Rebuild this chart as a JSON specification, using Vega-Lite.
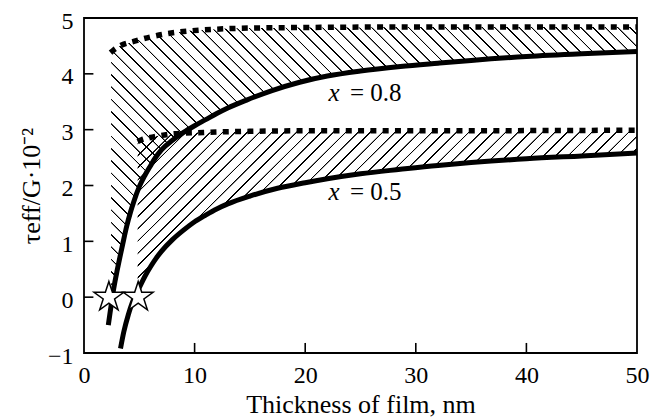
{
  "$schema": "https://vega.github.io/schema/vega-lite/v6.json",
  "width": 553,
  "height": 335,
  "autosize": {"type": "none"},
  "padding": {"left": 84, "top": 18, "right": 19, "bottom": 64},
  "background": "white",
  "config": {
    "view": {"stroke": "black", "strokeWidth": 1.8},
    "axis": {
      "grid": false,
      "ticks": false,
      "domain": false,
      "labelFont": "Liberation Serif",
      "labelFontSize": 24,
      "labelColor": "black",
      "labelFlush": false,
      "labelOverlap": false,
      "format": "d",
      "titleFont": "Liberation Serif",
      "titleFontSize": 26,
      "titleFontWeight": "normal",
      "titleColor": "black"
    }
  },
  "datasets": {
    "curves": [
      {"series": "s08", "t": 2.2, "v": -0.5}, {"series": "s08", "t": 2.4, "v": -0.22}, {"series": "s08", "t": 2.6, "v": 0.05}, {"series": "s08", "t": 2.8, "v": 0.28}, {"series": "s08", "t": 3.0, "v": 0.48}, {"series": "s08", "t": 3.25, "v": 0.72}, {"series": "s08", "t": 3.5, "v": 0.95}, {"series": "s08", "t": 3.86, "v": 1.27}, {"series": "s08", "t": 4.2, "v": 1.52}, {"series": "s08", "t": 4.5, "v": 1.71}, {"series": "s08", "t": 5.0, "v": 1.98}, {"series": "s08", "t": 5.5, "v": 2.18}, {"series": "s08", "t": 6.0, "v": 2.35}, {"series": "s08", "t": 6.5, "v": 2.51}, {"series": "s08", "t": 7.0, "v": 2.64}, {"series": "s08", "t": 8.0, "v": 2.81}, {"series": "s08", "t": 9.0, "v": 2.95}, {"series": "s08", "t": 10, "v": 3.07}, {"series": "s08", "t": 11, "v": 3.18}, {"series": "s08", "t": 12, "v": 3.29}, {"series": "s08", "t": 13, "v": 3.39}, {"series": "s08", "t": 14.7, "v": 3.53}, {"series": "s08", "t": 17, "v": 3.70}, {"series": "s08", "t": 19.5, "v": 3.85}, {"series": "s08", "t": 22, "v": 3.96}, {"series": "s08", "t": 25, "v": 4.05}, {"series": "s08", "t": 28.6, "v": 4.13}, {"series": "s08", "t": 32, "v": 4.19}, {"series": "s08", "t": 35, "v": 4.24}, {"series": "s08", "t": 40, "v": 4.31}, {"series": "s08", "t": 45, "v": 4.36}, {"series": "s08", "t": 50, "v": 4.40},
      {"series": "s05", "t": 3.3, "v": -0.92}, {"series": "s05", "t": 3.6, "v": -0.62}, {"series": "s05", "t": 4.0, "v": -0.32}, {"series": "s05", "t": 4.4, "v": -0.08}, {"series": "s05", "t": 4.7, "v": 0.05}, {"series": "s05", "t": 5.0, "v": 0.17}, {"series": "s05", "t": 5.5, "v": 0.37}, {"series": "s05", "t": 6.0, "v": 0.54}, {"series": "s05", "t": 6.5, "v": 0.69}, {"series": "s05", "t": 7.0, "v": 0.82}, {"series": "s05", "t": 8.0, "v": 1.03}, {"series": "s05", "t": 9.0, "v": 1.20}, {"series": "s05", "t": 10, "v": 1.35}, {"series": "s05", "t": 11, "v": 1.47}, {"series": "s05", "t": 12, "v": 1.58}, {"series": "s05", "t": 13, "v": 1.67}, {"series": "s05", "t": 15, "v": 1.81}, {"series": "s05", "t": 17.5, "v": 1.95}, {"series": "s05", "t": 20, "v": 2.05}, {"series": "s05", "t": 22, "v": 2.12}, {"series": "s05", "t": 25, "v": 2.21}, {"series": "s05", "t": 28.6, "v": 2.29}, {"series": "s05", "t": 32, "v": 2.36}, {"series": "s05", "t": 35, "v": 2.41}, {"series": "s05", "t": 40, "v": 2.48}, {"series": "s05", "t": 45, "v": 2.53}, {"series": "s05", "t": 50, "v": 2.58},
      {"series": "d08", "t": 2.4, "v": 4.38}, {"series": "d08", "t": 2.7, "v": 4.43}, {"series": "d08", "t": 3.25, "v": 4.50}, {"series": "d08", "t": 4.5, "v": 4.58}, {"series": "d08", "t": 6.0, "v": 4.66}, {"series": "d08", "t": 7.5, "v": 4.72}, {"series": "d08", "t": 9.6, "v": 4.77}, {"series": "d08", "t": 12, "v": 4.80}, {"series": "d08", "t": 15, "v": 4.82}, {"series": "d08", "t": 20, "v": 4.83}, {"series": "d08", "t": 30, "v": 4.84}, {"series": "d08", "t": 50, "v": 4.84},
      {"series": "d05", "t": 4.85, "v": 2.79}, {"series": "d05", "t": 5.2, "v": 2.82}, {"series": "d05", "t": 6.27, "v": 2.87}, {"series": "d05", "t": 7.8, "v": 2.92}, {"series": "d05", "t": 10.8, "v": 2.95}, {"series": "d05", "t": 15, "v": 2.97}, {"series": "d05", "t": 20, "v": 2.98}, {"series": "d05", "t": 30, "v": 2.98}, {"series": "d05", "t": 50, "v": 2.99}
    ],
    "hatch": [
      {"region": "r08", "t": 2.45, "lo": 0, "hi": 4.39}, {"region": "r08", "t": 2.6, "lo": 0.05, "hi": 4.42}, {"region": "r08", "t": 2.8, "lo": 0.28, "hi": 4.45}, {"region": "r08", "t": 3.0, "lo": 0.48, "hi": 4.47}, {"region": "r08", "t": 3.25, "lo": 0.72, "hi": 4.50}, {"region": "r08", "t": 3.5, "lo": 0.95, "hi": 4.52}, {"region": "r08", "t": 3.86, "lo": 1.27, "hi": 4.54}, {"region": "r08", "t": 4.2, "lo": 1.52, "hi": 4.56}, {"region": "r08", "t": 4.5, "lo": 1.71, "hi": 4.58}, {"region": "r08", "t": 5.0, "lo": 1.98, "hi": 4.61}, {"region": "r08", "t": 5.5, "lo": 2.18, "hi": 4.64}, {"region": "r08", "t": 6.0, "lo": 2.35, "hi": 4.66}, {"region": "r08", "t": 6.5, "lo": 2.51, "hi": 4.68}, {"region": "r08", "t": 7.0, "lo": 2.64, "hi": 4.70}, {"region": "r08", "t": 8.0, "lo": 2.81, "hi": 4.73}, {"region": "r08", "t": 9.0, "lo": 2.95, "hi": 4.76}, {"region": "r08", "t": 10, "lo": 3.07, "hi": 4.78}, {"region": "r08", "t": 11, "lo": 3.18, "hi": 4.79}, {"region": "r08", "t": 12, "lo": 3.29, "hi": 4.80}, {"region": "r08", "t": 13, "lo": 3.39, "hi": 4.81}, {"region": "r08", "t": 14.7, "lo": 3.53, "hi": 4.82}, {"region": "r08", "t": 17, "lo": 3.70, "hi": 4.82}, {"region": "r08", "t": 19.5, "lo": 3.85, "hi": 4.83}, {"region": "r08", "t": 22, "lo": 3.96, "hi": 4.83}, {"region": "r08", "t": 25, "lo": 4.05, "hi": 4.83}, {"region": "r08", "t": 28.6, "lo": 4.13, "hi": 4.84}, {"region": "r08", "t": 32, "lo": 4.19, "hi": 4.84}, {"region": "r08", "t": 35, "lo": 4.24, "hi": 4.84}, {"region": "r08", "t": 40, "lo": 4.31, "hi": 4.84}, {"region": "r08", "t": 45, "lo": 4.36, "hi": 4.84}, {"region": "r08", "t": 50, "lo": 4.40, "hi": 4.84},
      {"region": "r05", "t": 4.85, "lo": 0.11, "hi": 2.79}, {"region": "r05", "t": 5.2, "lo": 0.25, "hi": 2.82}, {"region": "r05", "t": 5.5, "lo": 0.37, "hi": 2.84}, {"region": "r05", "t": 6.0, "lo": 0.54, "hi": 2.86}, {"region": "r05", "t": 6.5, "lo": 0.69, "hi": 2.88}, {"region": "r05", "t": 7.0, "lo": 0.82, "hi": 2.90}, {"region": "r05", "t": 8.0, "lo": 1.03, "hi": 2.92}, {"region": "r05", "t": 9.0, "lo": 1.20, "hi": 2.94}, {"region": "r05", "t": 10, "lo": 1.35, "hi": 2.95}, {"region": "r05", "t": 11, "lo": 1.47, "hi": 2.95}, {"region": "r05", "t": 12, "lo": 1.58, "hi": 2.96}, {"region": "r05", "t": 13, "lo": 1.67, "hi": 2.96}, {"region": "r05", "t": 15, "lo": 1.81, "hi": 2.97}, {"region": "r05", "t": 17.5, "lo": 1.95, "hi": 2.97}, {"region": "r05", "t": 20, "lo": 2.05, "hi": 2.98}, {"region": "r05", "t": 22, "lo": 2.12, "hi": 2.98}, {"region": "r05", "t": 25, "lo": 2.21, "hi": 2.98}, {"region": "r05", "t": 28.6, "lo": 2.29, "hi": 2.98}, {"region": "r05", "t": 32, "lo": 2.36, "hi": 2.98}, {"region": "r05", "t": 35, "lo": 2.41, "hi": 2.99}, {"region": "r05", "t": 40, "lo": 2.48, "hi": 2.99}, {"region": "r05", "t": 45, "lo": 2.53, "hi": 2.99}, {"region": "r05", "t": 50, "lo": 2.58, "hi": 2.99}
    ],
    "axisticks": [
      {"axis": "x", "val": 10}, {"axis": "x", "val": 20}, {"axis": "x", "val": 30}, {"axis": "x", "val": 40},
      {"axis": "y", "val": 0}, {"axis": "y", "val": 1}, {"axis": "y", "val": 2}, {"axis": "y", "val": 3}, {"axis": "y", "val": 4}
    ],
    "stars": [{"t": 2.25, "v": 0}, {"t": 4.9, "v": 0}],
    "labels": [
      {"part": "var", "t": 22.1, "v": 3.52, "label": "x"},
      {"part": "val", "t": 24.05, "v": 3.52, "label": "= 0.8"},
      {"part": "var", "t": 22.1, "v": 1.74, "label": "x"},
      {"part": "val", "t": 24.05, "v": 1.74, "label": "= 0.5"}
    ]
  },
  "layer": [
    {
      "data": {"name": "hatch"},
      "transform": [{"filter": "datum.region === 'r08'"}],
      "mark": {
        "type": "area", "interpolate": "monotone", "opacity": 1,
        "color": {"gradient": "linear", "x1": 0, "y1": 1, "x2": 1.2341, "y2": 0.3662, "stops": [
{"offset":0,"color":"transparent"},{"offset":0.0005,"color":"#000"},{"offset":0.002,"color":"#000"},{"offset":0.0025,"color":"transparent"},
{"offset":0.015,"color":"transparent"},{"offset":0.0155,"color":"#000"},{"offset":0.017,"color":"#000"},{"offset":0.0175,"color":"transparent"},
{"offset":0.03,"color":"transparent"},{"offset":0.0305,"color":"#000"},{"offset":0.032,"color":"#000"},{"offset":0.0325,"color":"transparent"},
{"offset":0.045,"color":"transparent"},{"offset":0.0455,"color":"#000"},{"offset":0.047,"color":"#000"},{"offset":0.0475,"color":"transparent"},
{"offset":0.06,"color":"transparent"},{"offset":0.0605,"color":"#000"},{"offset":0.062,"color":"#000"},{"offset":0.0625,"color":"transparent"},
{"offset":0.075,"color":"transparent"},{"offset":0.0755,"color":"#000"},{"offset":0.077,"color":"#000"},{"offset":0.0775,"color":"transparent"},
{"offset":0.09,"color":"transparent"},{"offset":0.0905,"color":"#000"},{"offset":0.092,"color":"#000"},{"offset":0.0925,"color":"transparent"},
{"offset":0.105,"color":"transparent"},{"offset":0.1055,"color":"#000"},{"offset":0.107,"color":"#000"},{"offset":0.1075,"color":"transparent"},
{"offset":0.12,"color":"transparent"},{"offset":0.1205,"color":"#000"},{"offset":0.122,"color":"#000"},{"offset":0.1225,"color":"transparent"},
{"offset":0.135,"color":"transparent"},{"offset":0.1355,"color":"#000"},{"offset":0.137,"color":"#000"},{"offset":0.1375,"color":"transparent"},
{"offset":0.15,"color":"transparent"},{"offset":0.1505,"color":"#000"},{"offset":0.152,"color":"#000"},{"offset":0.1525,"color":"transparent"},
{"offset":0.165,"color":"transparent"},{"offset":0.1655,"color":"#000"},{"offset":0.167,"color":"#000"},{"offset":0.1675,"color":"transparent"},
{"offset":0.18,"color":"transparent"},{"offset":0.1805,"color":"#000"},{"offset":0.182,"color":"#000"},{"offset":0.1825,"color":"transparent"},
{"offset":0.195,"color":"transparent"},{"offset":0.1955,"color":"#000"},{"offset":0.197,"color":"#000"},{"offset":0.1975,"color":"transparent"},
{"offset":0.21,"color":"transparent"},{"offset":0.2105,"color":"#000"},{"offset":0.212,"color":"#000"},{"offset":0.2125,"color":"transparent"},
{"offset":0.225,"color":"transparent"},{"offset":0.2255,"color":"#000"},{"offset":0.227,"color":"#000"},{"offset":0.2275,"color":"transparent"},
{"offset":0.24,"color":"transparent"},{"offset":0.2405,"color":"#000"},{"offset":0.242,"color":"#000"},{"offset":0.2425,"color":"transparent"},
{"offset":0.255,"color":"transparent"},{"offset":0.2555,"color":"#000"},{"offset":0.257,"color":"#000"},{"offset":0.2575,"color":"transparent"},
{"offset":0.27,"color":"transparent"},{"offset":0.2705,"color":"#000"},{"offset":0.272,"color":"#000"},{"offset":0.2725,"color":"transparent"},
{"offset":0.285,"color":"transparent"},{"offset":0.2855,"color":"#000"},{"offset":0.287,"color":"#000"},{"offset":0.2875,"color":"transparent"},
{"offset":0.3,"color":"transparent"},{"offset":0.3005,"color":"#000"},{"offset":0.302,"color":"#000"},{"offset":0.3025,"color":"transparent"},
{"offset":0.315,"color":"transparent"},{"offset":0.3155,"color":"#000"},{"offset":0.317,"color":"#000"},{"offset":0.3175,"color":"transparent"},
{"offset":0.33,"color":"transparent"},{"offset":0.3305,"color":"#000"},{"offset":0.332,"color":"#000"},{"offset":0.3325,"color":"transparent"},
{"offset":0.345,"color":"transparent"},{"offset":0.3455,"color":"#000"},{"offset":0.347,"color":"#000"},{"offset":0.3475,"color":"transparent"},
{"offset":0.36,"color":"transparent"},{"offset":0.3605,"color":"#000"},{"offset":0.362,"color":"#000"},{"offset":0.3625,"color":"transparent"},
{"offset":0.375,"color":"transparent"},{"offset":0.3755,"color":"#000"},{"offset":0.377,"color":"#000"},{"offset":0.3775,"color":"transparent"},
{"offset":0.39,"color":"transparent"},{"offset":0.3905,"color":"#000"},{"offset":0.392,"color":"#000"},{"offset":0.3925,"color":"transparent"},
{"offset":0.405,"color":"transparent"},{"offset":0.4055,"color":"#000"},{"offset":0.407,"color":"#000"},{"offset":0.4075,"color":"transparent"},
{"offset":0.42,"color":"transparent"},{"offset":0.4205,"color":"#000"},{"offset":0.422,"color":"#000"},{"offset":0.4225,"color":"transparent"},
{"offset":0.435,"color":"transparent"},{"offset":0.4355,"color":"#000"},{"offset":0.437,"color":"#000"},{"offset":0.4375,"color":"transparent"},
{"offset":0.45,"color":"transparent"},{"offset":0.4505,"color":"#000"},{"offset":0.452,"color":"#000"},{"offset":0.4525,"color":"transparent"},
{"offset":0.465,"color":"transparent"},{"offset":0.4655,"color":"#000"},{"offset":0.467,"color":"#000"},{"offset":0.4675,"color":"transparent"},
{"offset":0.48,"color":"transparent"},{"offset":0.4805,"color":"#000"},{"offset":0.482,"color":"#000"},{"offset":0.4825,"color":"transparent"},
{"offset":0.495,"color":"transparent"},{"offset":0.4955,"color":"#000"},{"offset":0.497,"color":"#000"},{"offset":0.4975,"color":"transparent"},
{"offset":0.51,"color":"transparent"},{"offset":0.5105,"color":"#000"},{"offset":0.512,"color":"#000"},{"offset":0.5125,"color":"transparent"},
{"offset":0.525,"color":"transparent"},{"offset":0.5255,"color":"#000"},{"offset":0.527,"color":"#000"},{"offset":0.5275,"color":"transparent"},
{"offset":0.54,"color":"transparent"},{"offset":0.5405,"color":"#000"},{"offset":0.542,"color":"#000"},{"offset":0.5425,"color":"transparent"},
{"offset":0.555,"color":"transparent"},{"offset":0.5555,"color":"#000"},{"offset":0.557,"color":"#000"},{"offset":0.5575,"color":"transparent"},
{"offset":0.57,"color":"transparent"},{"offset":0.5705,"color":"#000"},{"offset":0.572,"color":"#000"},{"offset":0.5725,"color":"transparent"},
{"offset":0.585,"color":"transparent"},{"offset":0.5855,"color":"#000"},{"offset":0.587,"color":"#000"},{"offset":0.5875,"color":"transparent"},
{"offset":0.6,"color":"transparent"},{"offset":0.6005,"color":"#000"},{"offset":0.602,"color":"#000"},{"offset":0.6025,"color":"transparent"},
{"offset":0.615,"color":"transparent"},{"offset":0.6155,"color":"#000"},{"offset":0.617,"color":"#000"},{"offset":0.6175,"color":"transparent"},
{"offset":0.63,"color":"transparent"},{"offset":0.6305,"color":"#000"},{"offset":0.632,"color":"#000"},{"offset":0.6325,"color":"transparent"},
{"offset":0.645,"color":"transparent"},{"offset":0.6455,"color":"#000"},{"offset":0.647,"color":"#000"},{"offset":0.6475,"color":"transparent"},
{"offset":0.66,"color":"transparent"},{"offset":0.6605,"color":"#000"},{"offset":0.662,"color":"#000"},{"offset":0.6625,"color":"transparent"},
{"offset":0.675,"color":"transparent"},{"offset":0.6755,"color":"#000"},{"offset":0.677,"color":"#000"},{"offset":0.6775,"color":"transparent"},
{"offset":0.69,"color":"transparent"},{"offset":0.6905,"color":"#000"},{"offset":0.692,"color":"#000"},{"offset":0.6925,"color":"transparent"},
{"offset":0.705,"color":"transparent"},{"offset":0.7055,"color":"#000"},{"offset":0.707,"color":"#000"},{"offset":0.7075,"color":"transparent"},
{"offset":0.72,"color":"transparent"},{"offset":0.7205,"color":"#000"},{"offset":0.722,"color":"#000"},{"offset":0.7225,"color":"transparent"},
{"offset":0.735,"color":"transparent"},{"offset":0.7355,"color":"#000"},{"offset":0.737,"color":"#000"},{"offset":0.7375,"color":"transparent"},
{"offset":0.75,"color":"transparent"},{"offset":0.7505,"color":"#000"},{"offset":0.752,"color":"#000"},{"offset":0.7525,"color":"transparent"},
{"offset":0.765,"color":"transparent"},{"offset":0.7655,"color":"#000"},{"offset":0.767,"color":"#000"},{"offset":0.7675,"color":"transparent"},
{"offset":0.78,"color":"transparent"},{"offset":0.7805,"color":"#000"},{"offset":0.782,"color":"#000"},{"offset":0.7825,"color":"transparent"},
{"offset":0.795,"color":"transparent"},{"offset":0.7955,"color":"#000"},{"offset":0.797,"color":"#000"},{"offset":0.7975,"color":"transparent"},
{"offset":0.81,"color":"transparent"},{"offset":0.8105,"color":"#000"},{"offset":0.812,"color":"#000"},{"offset":0.8125,"color":"transparent"},
{"offset":0.825,"color":"transparent"},{"offset":0.8255,"color":"#000"},{"offset":0.827,"color":"#000"},{"offset":0.8275,"color":"transparent"},
{"offset":0.84,"color":"transparent"},{"offset":0.8405,"color":"#000"},{"offset":0.842,"color":"#000"},{"offset":0.8425,"color":"transparent"},
{"offset":0.855,"color":"transparent"},{"offset":0.8555,"color":"#000"},{"offset":0.857,"color":"#000"},{"offset":0.8575,"color":"transparent"},
{"offset":0.87,"color":"transparent"},{"offset":0.8705,"color":"#000"},{"offset":0.872,"color":"#000"},{"offset":0.8725,"color":"transparent"},
{"offset":0.885,"color":"transparent"},{"offset":0.8855,"color":"#000"},{"offset":0.887,"color":"#000"},{"offset":0.8875,"color":"transparent"},
{"offset":0.9,"color":"transparent"},{"offset":0.9005,"color":"#000"},{"offset":0.902,"color":"#000"},{"offset":0.9025,"color":"transparent"},
{"offset":0.915,"color":"transparent"},{"offset":0.9155,"color":"#000"},{"offset":0.917,"color":"#000"},{"offset":0.9175,"color":"transparent"},
{"offset":0.93,"color":"transparent"},{"offset":0.9305,"color":"#000"},{"offset":0.932,"color":"#000"},{"offset":0.9325,"color":"transparent"},
{"offset":0.945,"color":"transparent"},{"offset":0.9455,"color":"#000"},{"offset":0.947,"color":"#000"},{"offset":0.9475,"color":"transparent"},
{"offset":0.96,"color":"transparent"},{"offset":0.9605,"color":"#000"},{"offset":0.962,"color":"#000"},{"offset":0.9625,"color":"transparent"},
{"offset":0.975,"color":"transparent"},{"offset":0.9755,"color":"#000"},{"offset":0.977,"color":"#000"},{"offset":0.9775,"color":"transparent"},
{"offset":0.99,"color":"transparent"},{"offset":0.9905,"color":"#000"},{"offset":0.992,"color":"#000"},{"offset":0.9925,"color":"transparent"}
        ]}
      },
      "encoding": {
        "x": {"field": "t", "type": "quantitative", "scale": {"domain": [0, 50], "nice": false},
          "axis": {"values": [0, 10, 20, 30, 40, 50], "title": "Thickness of film, nm", "labelPadding": 10, "titleY": 59, "titleBaseline": "alphabetic"}},
        "y": {"field": "lo", "type": "quantitative", "scale": {"domain": [-1, 5], "nice": false},
          "axis": {"values": [-1, 0, 1, 2, 3, 4, 5], "title": "τeff/G·10⁻²", "labelPadding": 11, "labelOffset": 3, "titleX": -45, "titleY": 167.5, "titleAlign": "center", "titleBaseline": "alphabetic"}},
        "y2": {"field": "hi"}
      }
    },
    {
      "data": {"name": "hatch"},
      "transform": [{"filter": "datum.region === 'r05'"}],
      "mark": {
        "type": "area", "interpolate": "monotone", "opacity": 1,
        "color": {"gradient": "linear", "x1": 0, "y1": 0, "x2": 1.4864, "y2": 0.4816, "stops": [
{"offset":0,"color":"transparent"},{"offset":0.0005,"color":"#000"},{"offset":0.002,"color":"#000"},{"offset":0.0025,"color":"transparent"},
{"offset":0.015,"color":"transparent"},{"offset":0.0155,"color":"#000"},{"offset":0.017,"color":"#000"},{"offset":0.0175,"color":"transparent"},
{"offset":0.03,"color":"transparent"},{"offset":0.0305,"color":"#000"},{"offset":0.032,"color":"#000"},{"offset":0.0325,"color":"transparent"},
{"offset":0.045,"color":"transparent"},{"offset":0.0455,"color":"#000"},{"offset":0.047,"color":"#000"},{"offset":0.0475,"color":"transparent"},
{"offset":0.06,"color":"transparent"},{"offset":0.0605,"color":"#000"},{"offset":0.062,"color":"#000"},{"offset":0.0625,"color":"transparent"},
{"offset":0.075,"color":"transparent"},{"offset":0.0755,"color":"#000"},{"offset":0.077,"color":"#000"},{"offset":0.0775,"color":"transparent"},
{"offset":0.09,"color":"transparent"},{"offset":0.0905,"color":"#000"},{"offset":0.092,"color":"#000"},{"offset":0.0925,"color":"transparent"},
{"offset":0.105,"color":"transparent"},{"offset":0.1055,"color":"#000"},{"offset":0.107,"color":"#000"},{"offset":0.1075,"color":"transparent"},
{"offset":0.12,"color":"transparent"},{"offset":0.1205,"color":"#000"},{"offset":0.122,"color":"#000"},{"offset":0.1225,"color":"transparent"},
{"offset":0.135,"color":"transparent"},{"offset":0.1355,"color":"#000"},{"offset":0.137,"color":"#000"},{"offset":0.1375,"color":"transparent"},
{"offset":0.15,"color":"transparent"},{"offset":0.1505,"color":"#000"},{"offset":0.152,"color":"#000"},{"offset":0.1525,"color":"transparent"},
{"offset":0.165,"color":"transparent"},{"offset":0.1655,"color":"#000"},{"offset":0.167,"color":"#000"},{"offset":0.1675,"color":"transparent"},
{"offset":0.18,"color":"transparent"},{"offset":0.1805,"color":"#000"},{"offset":0.182,"color":"#000"},{"offset":0.1825,"color":"transparent"},
{"offset":0.195,"color":"transparent"},{"offset":0.1955,"color":"#000"},{"offset":0.197,"color":"#000"},{"offset":0.1975,"color":"transparent"},
{"offset":0.21,"color":"transparent"},{"offset":0.2105,"color":"#000"},{"offset":0.212,"color":"#000"},{"offset":0.2125,"color":"transparent"},
{"offset":0.225,"color":"transparent"},{"offset":0.2255,"color":"#000"},{"offset":0.227,"color":"#000"},{"offset":0.2275,"color":"transparent"},
{"offset":0.24,"color":"transparent"},{"offset":0.2405,"color":"#000"},{"offset":0.242,"color":"#000"},{"offset":0.2425,"color":"transparent"},
{"offset":0.255,"color":"transparent"},{"offset":0.2555,"color":"#000"},{"offset":0.257,"color":"#000"},{"offset":0.2575,"color":"transparent"},
{"offset":0.27,"color":"transparent"},{"offset":0.2705,"color":"#000"},{"offset":0.272,"color":"#000"},{"offset":0.2725,"color":"transparent"},
{"offset":0.285,"color":"transparent"},{"offset":0.2855,"color":"#000"},{"offset":0.287,"color":"#000"},{"offset":0.2875,"color":"transparent"},
{"offset":0.3,"color":"transparent"},{"offset":0.3005,"color":"#000"},{"offset":0.302,"color":"#000"},{"offset":0.3025,"color":"transparent"},
{"offset":0.315,"color":"transparent"},{"offset":0.3155,"color":"#000"},{"offset":0.317,"color":"#000"},{"offset":0.3175,"color":"transparent"},
{"offset":0.33,"color":"transparent"},{"offset":0.3305,"color":"#000"},{"offset":0.332,"color":"#000"},{"offset":0.3325,"color":"transparent"},
{"offset":0.345,"color":"transparent"},{"offset":0.3455,"color":"#000"},{"offset":0.347,"color":"#000"},{"offset":0.3475,"color":"transparent"},
{"offset":0.36,"color":"transparent"},{"offset":0.3605,"color":"#000"},{"offset":0.362,"color":"#000"},{"offset":0.3625,"color":"transparent"},
{"offset":0.375,"color":"transparent"},{"offset":0.3755,"color":"#000"},{"offset":0.377,"color":"#000"},{"offset":0.3775,"color":"transparent"},
{"offset":0.39,"color":"transparent"},{"offset":0.3905,"color":"#000"},{"offset":0.392,"color":"#000"},{"offset":0.3925,"color":"transparent"},
{"offset":0.405,"color":"transparent"},{"offset":0.4055,"color":"#000"},{"offset":0.407,"color":"#000"},{"offset":0.4075,"color":"transparent"},
{"offset":0.42,"color":"transparent"},{"offset":0.4205,"color":"#000"},{"offset":0.422,"color":"#000"},{"offset":0.4225,"color":"transparent"},
{"offset":0.435,"color":"transparent"},{"offset":0.4355,"color":"#000"},{"offset":0.437,"color":"#000"},{"offset":0.4375,"color":"transparent"},
{"offset":0.45,"color":"transparent"},{"offset":0.4505,"color":"#000"},{"offset":0.452,"color":"#000"},{"offset":0.4525,"color":"transparent"},
{"offset":0.465,"color":"transparent"},{"offset":0.4655,"color":"#000"},{"offset":0.467,"color":"#000"},{"offset":0.4675,"color":"transparent"},
{"offset":0.48,"color":"transparent"},{"offset":0.4805,"color":"#000"},{"offset":0.482,"color":"#000"},{"offset":0.4825,"color":"transparent"},
{"offset":0.495,"color":"transparent"},{"offset":0.4955,"color":"#000"},{"offset":0.497,"color":"#000"},{"offset":0.4975,"color":"transparent"},
{"offset":0.51,"color":"transparent"},{"offset":0.5105,"color":"#000"},{"offset":0.512,"color":"#000"},{"offset":0.5125,"color":"transparent"},
{"offset":0.525,"color":"transparent"},{"offset":0.5255,"color":"#000"},{"offset":0.527,"color":"#000"},{"offset":0.5275,"color":"transparent"},
{"offset":0.54,"color":"transparent"},{"offset":0.5405,"color":"#000"},{"offset":0.542,"color":"#000"},{"offset":0.5425,"color":"transparent"},
{"offset":0.555,"color":"transparent"},{"offset":0.5555,"color":"#000"},{"offset":0.557,"color":"#000"},{"offset":0.5575,"color":"transparent"},
{"offset":0.57,"color":"transparent"},{"offset":0.5705,"color":"#000"},{"offset":0.572,"color":"#000"},{"offset":0.5725,"color":"transparent"},
{"offset":0.585,"color":"transparent"},{"offset":0.5855,"color":"#000"},{"offset":0.587,"color":"#000"},{"offset":0.5875,"color":"transparent"},
{"offset":0.6,"color":"transparent"},{"offset":0.6005,"color":"#000"},{"offset":0.602,"color":"#000"},{"offset":0.6025,"color":"transparent"},
{"offset":0.615,"color":"transparent"},{"offset":0.6155,"color":"#000"},{"offset":0.617,"color":"#000"},{"offset":0.6175,"color":"transparent"},
{"offset":0.63,"color":"transparent"},{"offset":0.6305,"color":"#000"},{"offset":0.632,"color":"#000"},{"offset":0.6325,"color":"transparent"},
{"offset":0.645,"color":"transparent"},{"offset":0.6455,"color":"#000"},{"offset":0.647,"color":"#000"},{"offset":0.6475,"color":"transparent"},
{"offset":0.66,"color":"transparent"},{"offset":0.6605,"color":"#000"},{"offset":0.662,"color":"#000"},{"offset":0.6625,"color":"transparent"},
{"offset":0.675,"color":"transparent"},{"offset":0.6755,"color":"#000"},{"offset":0.677,"color":"#000"},{"offset":0.6775,"color":"transparent"},
{"offset":0.69,"color":"transparent"},{"offset":0.6905,"color":"#000"},{"offset":0.692,"color":"#000"},{"offset":0.6925,"color":"transparent"},
{"offset":0.705,"color":"transparent"},{"offset":0.7055,"color":"#000"},{"offset":0.707,"color":"#000"},{"offset":0.7075,"color":"transparent"},
{"offset":0.72,"color":"transparent"},{"offset":0.7205,"color":"#000"},{"offset":0.722,"color":"#000"},{"offset":0.7225,"color":"transparent"},
{"offset":0.735,"color":"transparent"},{"offset":0.7355,"color":"#000"},{"offset":0.737,"color":"#000"},{"offset":0.7375,"color":"transparent"},
{"offset":0.75,"color":"transparent"},{"offset":0.7505,"color":"#000"},{"offset":0.752,"color":"#000"},{"offset":0.7525,"color":"transparent"},
{"offset":0.765,"color":"transparent"},{"offset":0.7655,"color":"#000"},{"offset":0.767,"color":"#000"},{"offset":0.7675,"color":"transparent"},
{"offset":0.78,"color":"transparent"},{"offset":0.7805,"color":"#000"},{"offset":0.782,"color":"#000"},{"offset":0.7825,"color":"transparent"},
{"offset":0.795,"color":"transparent"},{"offset":0.7955,"color":"#000"},{"offset":0.797,"color":"#000"},{"offset":0.7975,"color":"transparent"},
{"offset":0.81,"color":"transparent"},{"offset":0.8105,"color":"#000"},{"offset":0.812,"color":"#000"},{"offset":0.8125,"color":"transparent"}
        ]}
      },
      "encoding": {
        "x": {"field": "t", "type": "quantitative", "scale": {"domain": [0, 50], "nice": false}},
        "y": {"field": "lo", "type": "quantitative", "scale": {"domain": [-1, 5], "nice": false}},
        "y2": {"field": "hi"}
      }
    },
    {
      "data": {"name": "axisticks"},
      "transform": [{"filter": "datum.axis === 'x'"}],
      "mark": {"type": "rule", "color": "black", "strokeWidth": 1.6},
      "encoding": {
        "x": {"field": "val", "type": "quantitative"},
        "y": {"datum": -1, "type": "quantitative"},
        "y2": {"datum": -0.82}
      }
    },
    {
      "data": {"name": "axisticks"},
      "transform": [{"filter": "datum.axis === 'y'"}],
      "mark": {"type": "rule", "color": "black", "strokeWidth": 1.6},
      "encoding": {
        "y": {"field": "val", "type": "quantitative"},
        "x": {"datum": 0, "type": "quantitative"},
        "x2": {"datum": 0.85}
      }
    },
    {
      "mark": {"type": "rule", "color": "#111", "strokeWidth": 1.3},
      "encoding": {
        "x": {"datum": 2.45, "type": "quantitative"},
        "y": {"datum": 0, "type": "quantitative"},
        "y2": {"datum": 4.39}
      }
    },
    {
      "mark": {"type": "rule", "color": "#777", "strokeWidth": 1.5},
      "encoding": {
        "x": {"datum": 4.85, "type": "quantitative"},
        "y": {"datum": 0, "type": "quantitative"},
        "y2": {"datum": 2.79}
      }
    },
    {
      "mark": {"type": "rule", "color": "black", "strokeWidth": 3.5, "strokeDash": [15, 10]},
      "encoding": {
        "x": {"datum": 6.8, "type": "quantitative"},
        "x2": {"datum": 50},
        "y": {"datum": 0, "type": "quantitative"}
      }
    },
    {
      "data": {"name": "curves"},
      "transform": [{"filter": "datum.series === 's08' || datum.series === 's05'"}],
      "mark": {"type": "line", "interpolate": "monotone", "color": "black", "strokeWidth": 5, "strokeCap": "butt"},
      "encoding": {
        "x": {"field": "t", "type": "quantitative"},
        "y": {"field": "v", "type": "quantitative"},
        "detail": {"field": "series"}
      }
    },
    {
      "data": {"name": "curves"},
      "transform": [{"filter": "datum.series === 'd08' || datum.series === 'd05'"}],
      "mark": {"type": "line", "interpolate": "monotone", "color": "black", "strokeWidth": 5.5, "strokeCap": "butt", "strokeDash": [6, 6.3]},
      "encoding": {
        "x": {"field": "t", "type": "quantitative"},
        "y": {"field": "v", "type": "quantitative"},
        "detail": {"field": "series"}
      }
    },
    {
      "data": {"name": "stars"},
      "mark": {"type": "point", "shape": "M0,-1L0.225,-0.309L0.951,-0.309L0.363,0.118L0.588,0.809L0,0.382L-0.588,0.809L-0.363,0.118L-0.951,-0.309L-0.225,-0.309Z", "size": 980, "filled": true, "fill": "white", "stroke": "black", "strokeWidth": 1.5, "opacity": 1},
      "encoding": {
        "x": {"field": "t", "type": "quantitative"},
        "y": {"field": "v", "type": "quantitative"}
      }
    },
    {
      "data": {"name": "labels"},
      "transform": [{"filter": "datum.part === 'var'"}],
      "mark": {"type": "text", "font": "Liberation Serif", "fontSize": 25, "fontStyle": "italic", "align": "left", "baseline": "alphabetic", "color": "black"},
      "encoding": {
        "x": {"field": "t", "type": "quantitative"},
        "y": {"field": "v", "type": "quantitative"},
        "text": {"field": "label"}
      }
    },
    {
      "data": {"name": "labels"},
      "transform": [{"filter": "datum.part === 'val'"}],
      "mark": {"type": "text", "font": "Liberation Serif", "fontSize": 25, "align": "left", "baseline": "alphabetic", "color": "black"},
      "encoding": {
        "x": {"field": "t", "type": "quantitative"},
        "y": {"field": "v", "type": "quantitative"},
        "text": {"field": "label"}
      }
    }
  ]
}
